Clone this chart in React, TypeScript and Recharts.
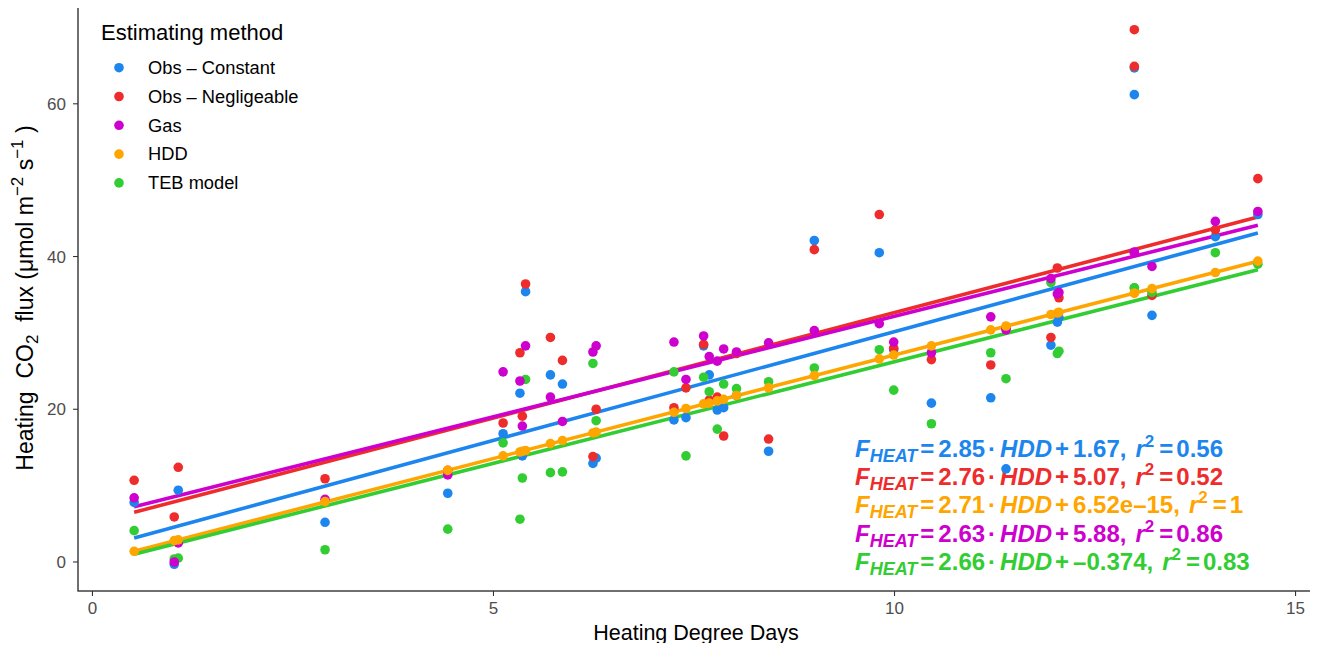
import { ScatterChart, Scatter, XAxis, YAxis } from 'recharts'

// heating degree days (x) shared by every method
const hdd = [
  0.52, 1.02, 1.07, 2.9, 4.43, 5.12, 5.33, 5.36, 5.4, 5.71, 5.86, 6.24, 6.28, 7.25, 7.4, 7.62, 7.69, 7.79,
  7.87, 8.03, 8.43, 9.0, 9.81, 9.99, 10.46, 11.2, 11.39, 11.95, 12.03, 12.05, 12.99, 12.99, 13.21, 14.0, 14.53,
]

const obsConstant = [
  7.8, -0.3, 9.4, 5.2, 9.0, 16.8, 22.1, 13.9, 35.4, 24.5, 23.3, 12.9, 13.6, 18.6, 18.9, 28.3, 24.5, 19.9,
  20.2, 21.8, 14.5, 42.1, 40.5, 27.8, 20.8, 21.5, 12.2, 28.4, 31.4, 32.0, 64.7, 61.2, 32.3, 42.6, 45.5,
]
const obsNegligeable = [
  10.7, 5.9, 12.4, 10.9, 12.0, 18.2, 27.4, 19.1, 36.4, 29.4, 26.4, 13.8, 20.0, 20.2, 22.8, 28.5, 21.2, 21.6,
  16.5, 27.3, 16.1, 40.9, 45.5, 28.0, 26.5, 25.8, 30.6, 29.4, 38.5, 34.6, 69.7, 64.9, 34.9, 43.5, 50.2,
]
const gas = [
  8.4, 0.0, 2.5, 8.2, 11.4, 24.9, 23.7, 17.8, 28.3, 21.6, 18.4, 27.5, 28.3, 28.8, 23.9, 29.6, 26.9, 26.3,
  27.9, 27.5, 28.7, 30.3, 31.2, 28.8, 27.4, 32.1, 30.4, 37.1, 35.1, 35.3, 40.5, 40.6, 38.7, 44.6, 45.9,
]
const hddModel = [
  1.4, 2.8, 2.9, 7.9, 12.0, 13.9, 14.4, 14.5, 14.6, 15.5, 15.9, 16.9, 17.0, 19.6, 20.1, 20.7, 20.8, 21.1,
  21.3, 21.8, 22.8, 24.4, 26.6, 27.1, 28.3, 30.4, 30.9, 32.4, 32.6, 32.7, 35.2, 35.2, 35.8, 37.9, 39.4,
]
const tebModel = [
  4.1, 0.4, 0.5, 1.6, 4.3, 15.6, 5.6, 11.0, 23.9, 11.7, 11.8, 26.0, 18.5, 24.9, 13.9, 24.2, 22.3, 17.4,
  23.3, 22.7, 23.6, 25.4, 27.8, 22.5, 18.1, 27.4, 24.0, 36.6, 27.3, 27.6, 35.9, 35.9, 35.3, 40.5, 39.0,
]

// linear fits printed on the chart
const slopes = [2.85, 2.76, 2.63, 2.71, 2.66]
const intercepts = [1.67, 5.07, 5.88, 6.52e-15, -0.374]
const interceptLabels = ['1.67', '5.07', '5.88', '6.52e\u201315', '\u20130.374']
const r2Labels = ['0.56', '0.52', '0.86', '1', '0.83']

const methods = ['Obs \u2013 Constant', 'Obs \u2013 Negligeable', 'Gas', 'HDD', 'TEB model']
const colors = ['#1C86EE', '#EE2C2C', '#CD00CD', '#FFA500', '#32CD32']
const values = [obsConstant, obsNegligeable, gas, hddModel, tebModel]

// drawing orders
const pointOrder = [0, 1, 4, 2, 3]
const lineOrder = [0, 1, 2, 3, 4]
const equationOrder = [0, 1, 3, 2, 4]

const X_DOMAIN = [-0.18, 15.23]
const Y_DOMAIN = [-3.8, 73.2]
const FONT = 'Liberation Sans, Arial, Helvetica, sans-serif'

const xMin = Math.min(...hdd)
const xMax = Math.max(...hdd)

function pointsFor(i: number) {
  return hdd.map((x, k) => ({ x, y: values[i][k] }))
}

function fitFor(i: number) {
  return [xMin, xMax].map((x) => ({ x, y: slopes[i] * x + intercepts[i] }))
}

function Equation({ i, y }: { i: number; y: number }) {
  return (
    <text x={855} y={y} fontSize={24} fontWeight="bold" fill={colors[i]} fontFamily={FONT}>
      <tspan fontStyle="italic">F</tspan>
      <tspan fontStyle="italic" fontSize={18} dy={5}>HEAT</tspan>
      <tspan dy={-5} dx={3}>=</tspan>
      <tspan dx={4}>{slopes[i].toFixed(2)}</tspan>
      <tspan dx={3}>{'\u00b7'}</tspan>
      <tspan dx={4} fontStyle="italic">HDD</tspan>
      <tspan dx={3}>+</tspan>
      <tspan dx={4}>{interceptLabels[i]},</tspan>
      <tspan dx={9} fontStyle="italic">r</tspan>
      <tspan fontSize={17} dy={-10}>2</tspan>
      <tspan dy={10} dx={5}>=</tspan>
      <tspan dx={3}>{r2Labels[i]}</tspan>
    </text>
  )
}

// legend, titles and equations: drawn under the chart layer
function Overlay() {
  return (
    <svg width={1318} height={651} style={{ position: 'absolute', left: 0, top: 0 }} fontFamily={FONT}>
      <text x={101} y={40} fontSize={22} fill="#000">Estimating method</text>
      {methods.map((m, i) => {
        const cy = 67.7 + 28.8 * i
        return (
          <g key={m}>
            <circle cx={119} cy={cy} r={4.8} fill={colors[i]} />
            <text x={148} y={cy + 6.3} fontSize={18.3} fill="#000">{m}</text>
          </g>
        )
      })}
      <text x={696} y={640} fontSize={21.5} textAnchor="middle" fill="#000">Heating Degree Days</text>
      <text
        x={33}
        y={298}
        fontSize={23}
        textAnchor="middle"
        fill="#000"
        transform="rotate(-90 33 298)"
        style={{ whiteSpace: 'pre' }}
      >
        <tspan>Heating  CO</tspan>
        <tspan fontSize={17} dy={5}>2</tspan>
        <tspan dy={-5}>  flux (μmol m</tspan>
        <tspan fontSize={17} dy={-10}>{'\u22122'}</tspan>
        <tspan dy={10}> s</tspan>
        <tspan fontSize={17} dy={-10}>{'\u22121'}</tspan>
        <tspan dy={10}> )</tspan>
      </text>
      {equationOrder.map((i, k) => (
        <Equation key={i} i={i} y={456.5 + 28.35 * k} />
      ))}
    </svg>
  )
}

// panel border, drawn on top of everything
function Frame() {
  return (
    <svg
      width={1318}
      height={651}
      style={{ position: 'absolute', left: 0, top: 0, pointerEvents: 'none' }}
    >
      <rect x={78} y={3} width={1236} height={588} fill="none" stroke="#333333" strokeWidth={1.4} />
    </svg>
  )
}

export default function App() {
  return (
    <div style={{ position: 'relative', width: 1302, height: 635, fontFamily: FONT }}>
      <div style={{ position: 'absolute', left: -8, top: -8, width: 1318, height: 651 }}>
        <Overlay />
        <div style={{ position: 'absolute', left: 0, top: 0 }}>
          <ScatterChart width={1318} height={651} margin={{ top: 3, right: 4, bottom: 0, left: 0 }}>
            <XAxis
              type="number"
              dataKey="x"
              domain={X_DOMAIN}
              ticks={[0, 5, 10, 15]}
              allowDataOverflow
              axisLine={false}
              tickSize={5}
              tickMargin={6}
              tickLine={{ stroke: '#333333', strokeWidth: 1.1 }}
              tick={{ fill: '#4D4D4D', fontSize: 17, fontFamily: FONT }}
              height={60}
            />
            <YAxis
              type="number"
              dataKey="y"
              domain={Y_DOMAIN}
              ticks={[0, 20, 40, 60]}
              allowDataOverflow
              axisLine={false}
              tickSize={5}
              tickMargin={7}
              tickLine={{ stroke: '#333333', strokeWidth: 1.1 }}
              tick={{ fill: '#4D4D4D', fontSize: 17, fontFamily: FONT }}
              width={78}
            />
            {lineOrder.map((i) => (
              <Scatter
                key={'fit' + i}
                data={fitFor(i)}
                line={{ stroke: colors[i], strokeWidth: 3.6 }}
                shape={() => <g />}
                isAnimationActive={false}
              />
            ))}
            {pointOrder.map((i) => (
              <Scatter
                key={methods[i]}
                name={methods[i]}
                data={pointsFor(i)}
                fill={colors[i]}
                shape={(p: any) => <circle cx={p.cx} cy={p.cy} r={4.8} fill={colors[i]} />}
                isAnimationActive={false}
              />
            ))}
          </ScatterChart>
        </div>
        <Frame />
      </div>
    </div>
  )
}
